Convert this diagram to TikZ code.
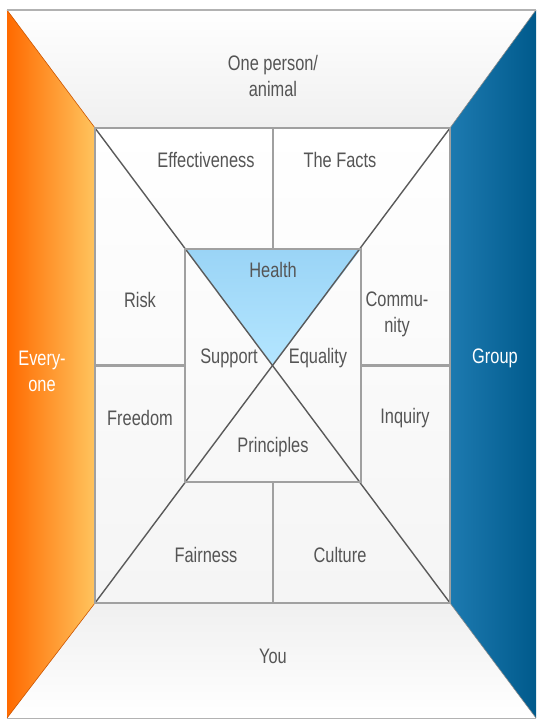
\documentclass[tikz,border=0pt]{standalone}
\usepackage{fontspec}
\setmainfont{Liberation Sans}[FakeStretch=0.78]
\begin{document}
\begin{tikzpicture}[x=1pt,y=-1pt,
  lbl/.style={font=\fontsize{21}{26}\selectfont, text=labelgray, align=center, inner sep=1pt},
  wlbl/.style={lbl, text=white},
  frame/.style={draw=framegray, line width=2.6pt},
  diag/.style={draw=diaggray, line width=1.4pt}]
\definecolor{labelgray}{HTML}{555555}
\definecolor{framegray}{HTML}{A0A0A0}
\definecolor{diaggray}{HTML}{5A5A5A}
\definecolor{orangeD}{HTML}{FF6A00}
\definecolor{orangeL}{HTML}{FFC45E}
\definecolor{blueL}{HTML}{1D7AB0}
\definecolor{blueD}{HTML}{005A8C}
\definecolor{skyA}{HTML}{9AD4F6}
\definecolor{skyB}{HTML}{B4E6FF}
\useasboundingbox (0,0) rectangle (538,721);
\fill[white] (0,0) rectangle (538,721);
% outer frame corners
\coordinate (o1) at (7,10);  \coordinate (o2) at (536,10);
\coordinate (o3) at (536,718); \coordinate (o4) at (7,718);
% inner rectangle corners
\coordinate (i1) at (95,128);  \coordinate (i2) at (450,128);
\coordinate (i3) at (450,603); \coordinate (i4) at (95,603);
% central square corners and centre
\coordinate (s1) at (185,249); \coordinate (s2) at (361,249);
\coordinate (s3) at (361,482); \coordinate (s4) at (185,482);
\coordinate (c) at (273,365.5);
% top and bottom trapezoids
\shade[top color=white, bottom color=black!6] (o1) -- (o2) -- (i2) -- (i1) -- cycle;
\shade[top color=black!6, bottom color=white] (i4) -- (i3) -- (o3) -- (o4) -- cycle;
% side panels
\shade[left color=orangeD, right color=orangeL] (o1) -- (i1) -- (i4) -- (o4) -- cycle;
\draw[orangeD!80!black, line width=0.6pt] (o1) -- (i1) -- (i4) -- (o4);
\shade[left color=blueL, right color=blueD] (i2) -- (o2) -- (o3) -- (i3) -- cycle;
\draw[black!45, line width=0.6pt] (o2) -- (i2) -- (i3) -- (o3);
% inner area
\shade[top color=white, bottom color=black!4] (i1) rectangle (i3);
\shade[top color=skyA, bottom color=skyB] (s1) -- (s2) -- (c) -- cycle;
% outer edges
\draw[black!30, line width=1.4pt] (o1) -- (o2);
\draw[black!30, line width=1pt] (o4) -- (o3);
% cell dividers
\draw[frame] (273,128) -- (273,249);
\draw[frame] (273,482) -- (273,603);
\draw[frame] (95,365.5) -- (185,365.5);
\draw[frame] (361,365.5) -- (450,365.5);
% diagonals through the centre
\draw[diag] (i1) -- (i3);
\draw[diag] (i2) -- (i4);
% rectangles
\draw[frame] (i1) rectangle (i3);
\draw[frame] (s1) rectangle (s3);
% labels
\node[lbl] (onep) at (273,76) {One person/\\animal};
\node[lbl] (eff) at (206,160) {Effectiveness};
\node[lbl] (facts) at (340,160) {The Facts};
\node[lbl] (risk) at (140,300) {Risk};
\node[lbl] (comm) at (397,314) {Commu-\\nity};
\node[wlbl] (every) at (42,371) {Every-\\one};
\node[wlbl] (group) at (495,358) {Group};
\node[lbl] (free) at (140,418) {Freedom};
\node[lbl] (inq) at (405,418) {Inquiry};
\node[lbl] (health) at (273,270) {Health};
\node[lbl] (supp) at (229,358) {Support};
\node[lbl] (equal) at (318,358) {Equality};
\node[lbl] (princ) at (273,447) {Principles};
\node[lbl] (fair) at (206,555) {Fairness};
\node[lbl] (cult) at (340,555) {Culture};
\node[lbl] (you) at (273,656) {You};
\end{tikzpicture}
\end{document}
